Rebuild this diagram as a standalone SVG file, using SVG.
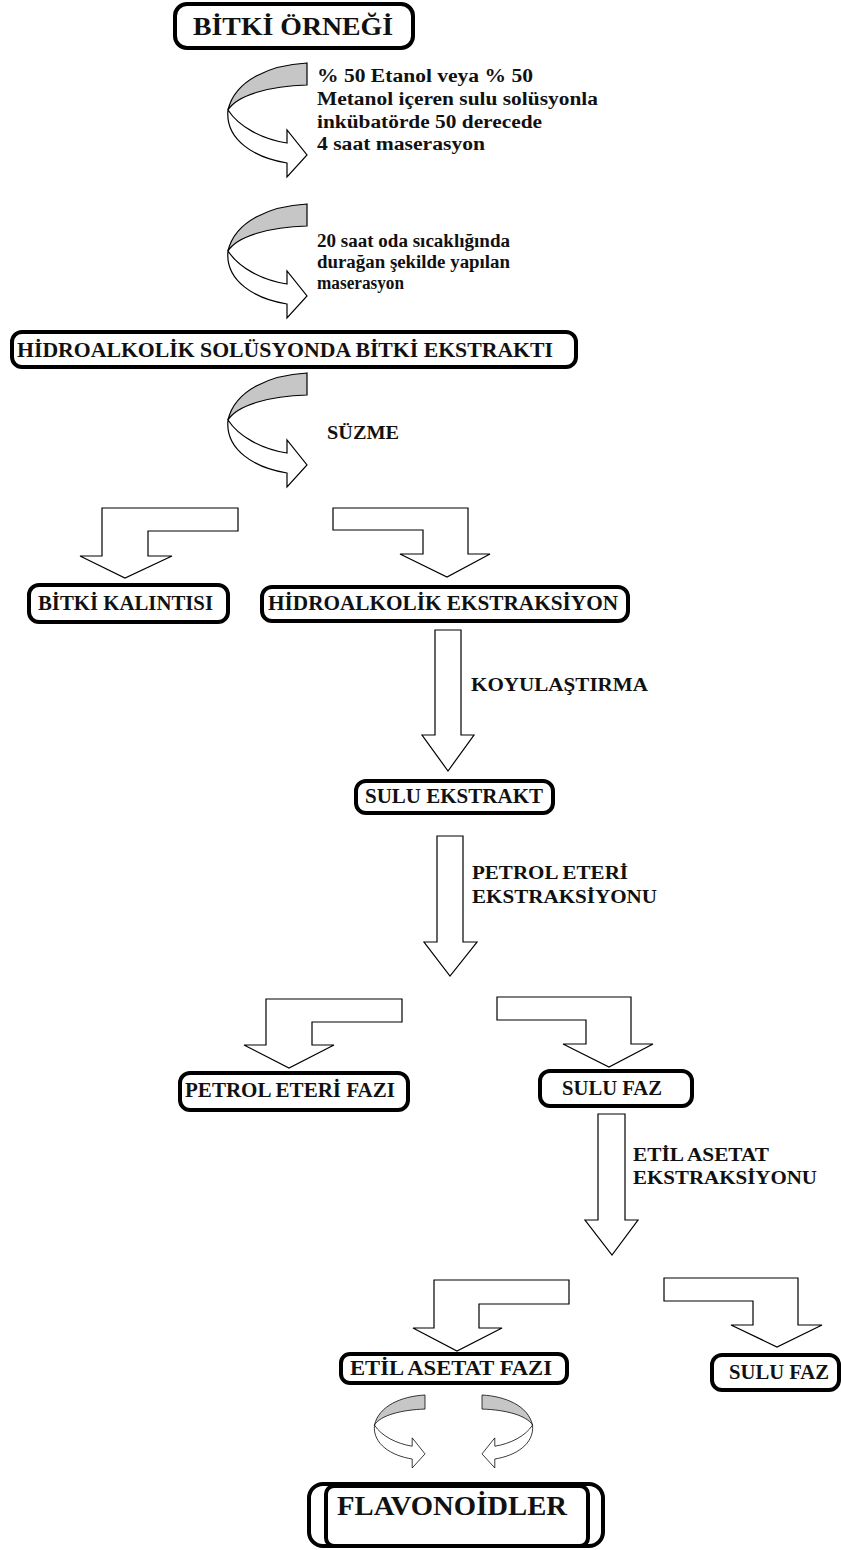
<svg xmlns="http://www.w3.org/2000/svg" xmlns:xlink="http://www.w3.org/1999/xlink" width="841" height="1550" viewBox="0 0 841 1550">
<style>
.box{fill:#fff;stroke:#000;stroke-width:4}
.arr{fill:#fff;stroke:#000;stroke-width:1.2;stroke-linejoin:miter}
.grey{fill:#c6c6c6;stroke:#000;stroke-width:1.2}
.cv path{vector-effect:non-scaling-stroke}
.t{font-family:"Liberation Serif","Times New Roman",serif;font-weight:bold;fill:#111}
.h{font-size:20px}
.s{font-size:18px}
.big{font-size:26px}
</style>
<defs>
<g id="curve">
<path class="grey" d="M0,0 C-37,2 -72,17 -79,47 C-70,32 -37,23 0,22 Z"/>
<path class="arr" d="M-79,47 C-82,77 -52,95 -20,100 L-20,114 L0,92 L-20,67 L-20,80 C-45,76 -68,64 -79,47 Z"/>
</g>
</defs>
<rect width="841" height="1550" fill="#fff"/>

<g id="connectors">
<g class="cv">
<use xlink:href="#curve" href="#curve" transform="translate(307,63)"/>
<use xlink:href="#curve" href="#curve" transform="translate(307,204)"/>
<use xlink:href="#curve" href="#curve" transform="translate(307,373)"/>
<use xlink:href="#curve" href="#curve" transform="translate(425,1395) scale(0.64)"/>
<use xlink:href="#curve" href="#curve" transform="translate(482,1395) scale(-0.64,0.64)"/>
</g>
<path class="arr" d="M102,508 H238 V531 H148 V556 H172 L125,578 L80,556 H102 Z"/>
<path class="arr" d="M333,508 H468 V554 H490 L447,577 L400,554 H423 V530 H333 Z"/>
<path class="arr" d="M435,630 H461 V735 H474 L448,771 L422,735 H435 Z"/>
<path class="arr" d="M437,836 H463 V942 H477 L450,976 L424,942 H437 Z"/>
<path class="arr" d="M266,999 H402 V1022 H312 V1045 H334 L289,1068 L244,1045 H266 Z"/>
<path class="arr" d="M497,997 H631 V1044 H653 L609,1067 L563,1044 H586 V1020 H497 Z"/>
<path class="arr" d="M598,1114 H625 V1220 H638 L612,1255 L585,1220 H598 Z"/>
<path class="arr" d="M434,1280 H569 V1304 H479 V1328 H502 L457,1351 L413,1328 H434 Z"/>
<path class="arr" d="M664,1278 H798 V1325 H822 L777,1347 L731,1325 H753 V1301 H664 Z"/>
<g id="labels">
<text class="t s" x="317" y="82" textLength="216" lengthAdjust="spacingAndGlyphs">% 50 Etanol veya % 50</text>
<text class="t s" x="317" y="105" textLength="281" lengthAdjust="spacingAndGlyphs">Metanol içeren sulu solüsyonla</text>
<text class="t s" x="317" y="128" textLength="225" lengthAdjust="spacingAndGlyphs">inkübatörde 50 derecede</text>
<text class="t s" x="317" y="150" textLength="168" lengthAdjust="spacingAndGlyphs">4 saat maserasyon</text>
<text class="t s" x="317" y="247" textLength="193" lengthAdjust="spacingAndGlyphs">20 saat oda sıcaklığında</text>
<text class="t s" x="317" y="268" textLength="193" lengthAdjust="spacingAndGlyphs">durağan şekilde yapılan</text>
<text class="t s" x="317" y="289" textLength="87" lengthAdjust="spacingAndGlyphs">maserasyon</text>
<text class="t s" x="327" y="439" textLength="72" lengthAdjust="spacingAndGlyphs">SÜZME</text>
<text class="t s" x="471" y="691" textLength="177" lengthAdjust="spacingAndGlyphs">KOYULAŞTIRMA</text>
<text class="t s" x="472" y="879" textLength="156" lengthAdjust="spacingAndGlyphs">PETROL ETERİ</text>
<text class="t s" x="472" y="903" textLength="185" lengthAdjust="spacingAndGlyphs">EKSTRAKSİYONU</text>
<text class="t s" x="633" y="1161" textLength="136" lengthAdjust="spacingAndGlyphs">ETİL ASETAT</text>
<text class="t s" x="633" y="1184" textLength="184" lengthAdjust="spacingAndGlyphs">EKSTRAKSİYONU</text>
</g>
</g>

<g id="bitki-ornegi">
<rect class="box" x="175" y="4" width="238" height="44" rx="12"/>
<text class="t big" x="193" y="35" textLength="200" lengthAdjust="spacingAndGlyphs">BİTKİ ÖRNEĞİ</text>
</g>
<g id="hidroalkolik-solusyon">
<rect class="box" x="12" y="332" width="564" height="35" rx="10"/>
<text class="t" style="font-size:21px" x="17" y="357" textLength="536" lengthAdjust="spacingAndGlyphs">HİDROALKOLİK SOLÜSYONDA BİTKİ EKSTRAKTI</text>
</g>
<g id="bitki-kalintisi">
<rect class="box" x="29" y="585" width="199" height="37" rx="10"/>
<text class="t h" x="38" y="610" textLength="175" lengthAdjust="spacingAndGlyphs">BİTKİ KALINTISI</text>
</g>
<g id="hidroalkolik-ekstraksiyon">
<rect class="box" x="262" y="587" width="366" height="34" rx="10"/>
<text class="t h" x="268" y="610" textLength="350" lengthAdjust="spacingAndGlyphs">HİDROALKOLİK EKSTRAKSİYON</text>
</g>
<g id="sulu-ekstrakt">
<rect class="box" x="356" y="781" width="197" height="32" rx="10"/>
<text class="t h" x="365" y="803" textLength="178" lengthAdjust="spacingAndGlyphs">SULU EKSTRAKT</text>
</g>
<g id="petrol-eteri-fazi">
<rect class="box" x="180" y="1073" width="228" height="37" rx="10"/>
<text class="t h" x="185" y="1097" textLength="210" lengthAdjust="spacingAndGlyphs">PETROL ETERİ FAZI</text>
</g>
<g id="sulu-faz-1">
<rect class="box" x="540" y="1071" width="152" height="35" rx="10"/>
<text class="t h" x="562" y="1095" textLength="100" lengthAdjust="spacingAndGlyphs">SULU FAZ</text>
</g>
<g id="etil-asetat-fazi">
<rect class="box" x="341" y="1354" width="226" height="29" rx="9"/>
<text class="t h" x="350" y="1375" textLength="202" lengthAdjust="spacingAndGlyphs">ETİL ASETAT FAZI</text>
</g>
<g id="sulu-faz-2">
<rect class="box" x="712" y="1355" width="127" height="35" rx="10"/>
<text class="t h" x="729" y="1379" textLength="100" lengthAdjust="spacingAndGlyphs">SULU FAZ</text>
</g>
<g id="flavonoidler">
<rect class="box" x="309" y="1484" width="294" height="62" rx="14"/>
<rect class="box" x="326" y="1486" width="262" height="60" rx="8"/>
<text class="t" style="font-size:27px" x="337" y="1515" textLength="230" lengthAdjust="spacingAndGlyphs">FLAVONOİDLER</text>
</g>
</svg>
